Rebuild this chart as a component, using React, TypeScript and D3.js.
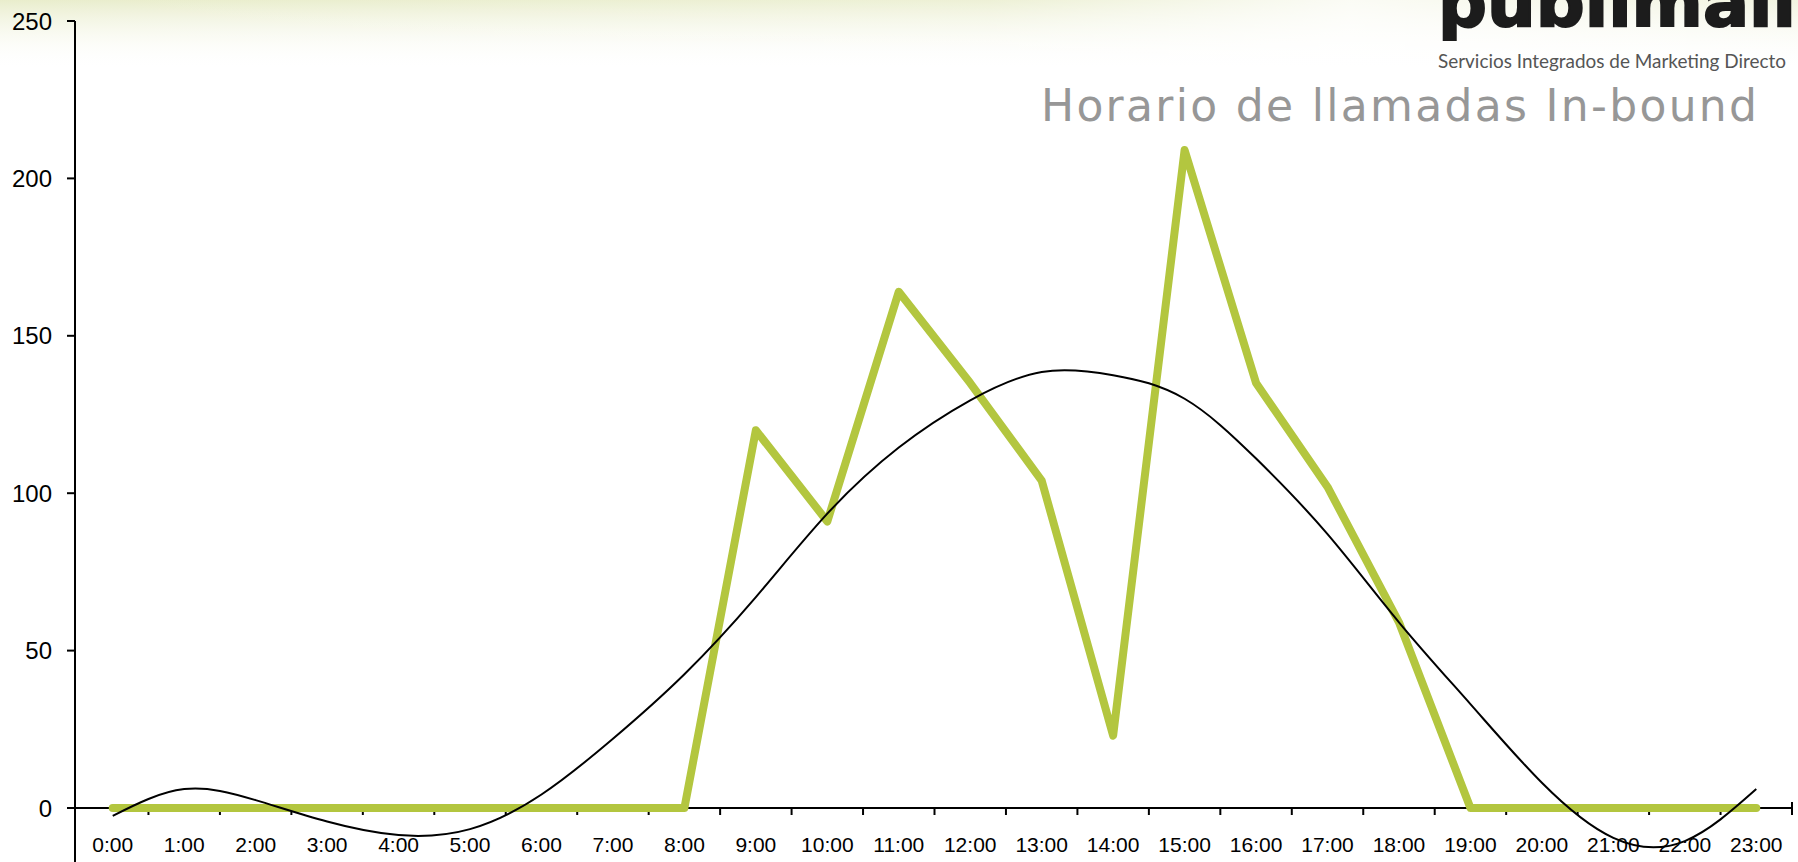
import React from 'react';
import * as d3 from 'd3';

const hours = ['0:00','1:00','2:00','3:00','4:00','5:00','6:00','7:00','8:00','9:00','10:00','11:00','12:00','13:00','14:00','15:00','16:00','17:00','18:00','19:00','20:00','21:00','22:00','23:00'];
const calls = [0,0,0,0,0,0,0,0,0,120,91,164,135,104,23,209,135,102,59,0,0,0,0,0];
const trend = [-2.5,6,2.5,-4.3,-8.6,-6.7,4.3,22,42.5,67,93.5,114.5,129.5,138.5,137.5,130,111,87,59,33,8,-9.5,-10.5,6];
const yTicks = [0,50,100,150,200,250];
const titleText = 'Horario de llamadas In-bound';
const subtitleText = 'Servicios Integrados de Marketing Directo';
const logoText = 'publimail';

const W = 1798;
const H = 862;

export default function App() {
  const x = d3.scaleBand<string>().domain(hours).range([77, 1792]).padding(0);
  const y = d3.scaleLinear().domain([0, 250]).range([808, 21]);
  const cx = (h: string) => (x(h) as number) + x.bandwidth() / 2;

  const greenLine = d3.line<number>()
    .x((_, i) => cx(hours[i]))
    .y((d) => y(d));
  const trendLine = d3.line<number>()
    .x((_, i) => cx(hours[i]))
    .y((d) => y(d))
    .curve(d3.curveNatural);

  const axisFont = '"Liberation Sans", Arial, Helvetica, sans-serif';
  const x1 = x.range()[1];

  return (
    <svg width={W} height={H} style={{ position: 'absolute', left: 0, top: 0, background: '#fff' }}>
      <defs>
        <linearGradient id="topTint" x1="0" y1="0" x2="0" y2="1">
          <stop offset="0" stopColor="#e9edcc" stopOpacity="1" />
          <stop offset="1" stopColor="#ffffff" stopOpacity="0" />
        </linearGradient>
        <linearGradient id="sideFade" x1="0" y1="0" x2="1" y2="0">
          <stop offset="0" stopColor="#ffffff" stopOpacity="0" />
          <stop offset="0.55" stopColor="#ffffff" stopOpacity="0.2" />
          <stop offset="0.75" stopColor="#ffffff" stopOpacity="0.8" />
          <stop offset="1" stopColor="#ffffff" stopOpacity="0.4" />
        </linearGradient>
      </defs>
      <rect x={0} y={0} width={W} height={H} fill="#ffffff" />
      <rect x={0} y={0} width={W} height={70} fill="url(#topTint)" />
      <rect x={0} y={0} width={W} height={70} fill="url(#sideFade)" />

      {/* logo */}
      <text x={1438} y={26} fontFamily='"DejaVu Sans", sans-serif' fontWeight={700} fontSize={66}
        fill="#1c1c1c" stroke="#1c1c1c" strokeWidth={2} textLength={358} lengthAdjust="spacingAndGlyphs">{logoText}</text>
      <text x={1438} y={68} fontFamily='Lato, "Open Sans", sans-serif' fontSize={19}
        fill="#555555" textLength={348} lengthAdjust="spacingAndGlyphs">{subtitleText}</text>
      <text x={1041} y={121} fontFamily='"DejaVu Sans", Verdana, sans-serif' fontSize={44}
        fill="#979797" textLength={716} lengthAdjust="spacing">{titleText}</text>

      {/* y axis */}
      <line x1={75} x2={75} y1={y(250)} y2={H} stroke="#000" strokeWidth={2} />
      {yTicks.map((t) => (
        <g key={t}>
          <line x1={67} x2={75} y1={y(t)} y2={y(t)} stroke="#000" strokeWidth={2} />
          <text x={52} y={y(t)} dy="0.36em" textAnchor="end" fontFamily={axisFont} fontSize={24} fill="#000">{t}</text>
        </g>
      ))}

      {/* x axis */}
      <line x1={75} x2={x1} y1={y(0)} y2={y(0)} stroke="#000" strokeWidth={2} />
      {hours.slice(1).map((h) => (
        <line key={'t' + h} x1={x(h) as number} x2={x(h) as number} y1={y(0)} y2={y(0) + 7} stroke="#000" strokeWidth={2} />
      ))}
      <line x1={x1} x2={x1} y1={y(0) - 6} y2={y(0) + 7} stroke="#000" strokeWidth={2} />
      {hours.map((h) => (
        <text key={'l' + h} x={cx(h)} y={852} textAnchor="middle" fontFamily={axisFont} fontSize={21} fill="#000">{h}</text>
      ))}

      {/* series */}
      <path d={greenLine(calls) || ''} fill="none" stroke="#b3c63f" strokeWidth={8} strokeLinejoin="round" strokeLinecap="round" />
      <path d={trendLine(trend) || ''} fill="none" stroke="#000" strokeWidth={2} />
    </svg>
  );
}
